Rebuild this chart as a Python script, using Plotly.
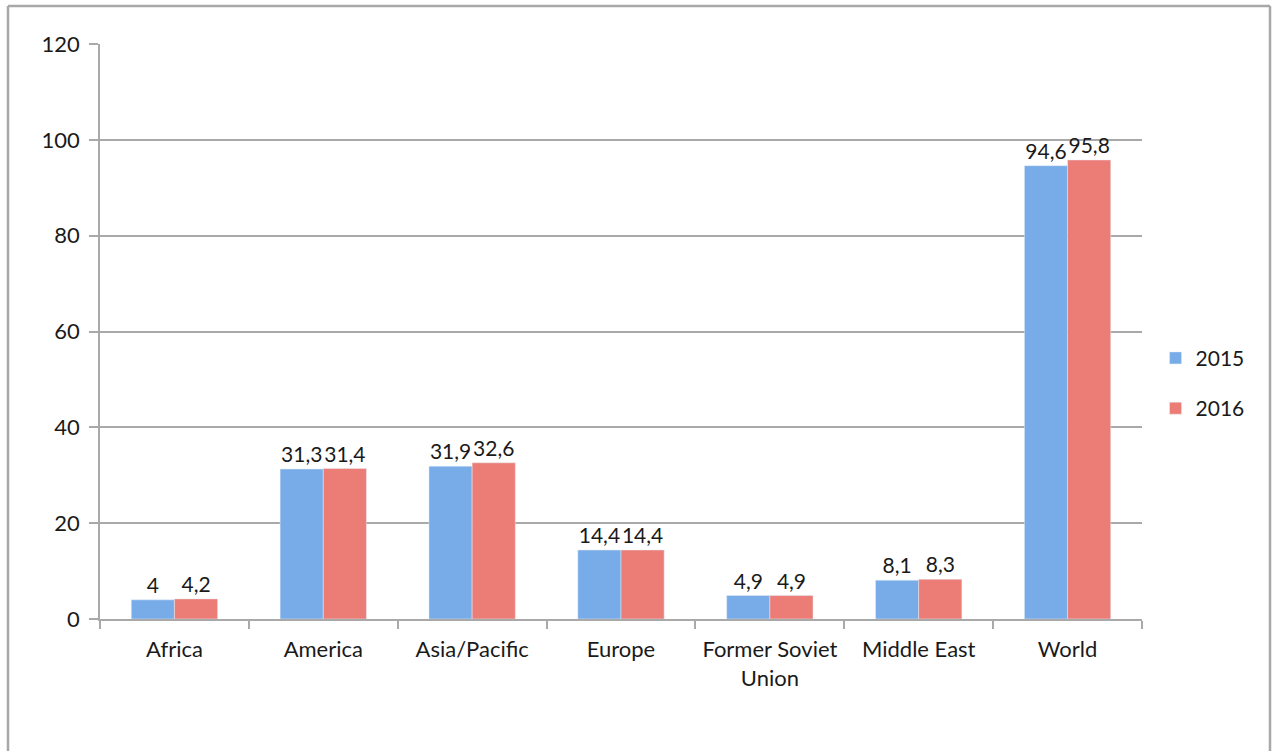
import plotly.graph_objects as go

categories = ["Africa", "America", "Asia/Pacific", "Europe", "Former Soviet<br>Union", "Middle East", "World"]
values_2015 = [4, 31.3, 31.9, 14.4, 4.9, 8.1, 94.6]
values_2016 = [4.2, 31.4, 32.6, 14.4, 4.9, 8.3, 95.8]
series_names = ["2015", "2016"]
y_ticks = [0, 20, 40, 60, 80, 100, 120]

FONT = "Lato, 'Open Sans', sans-serif"
GRID = "#a9a9a9"

def lab(v):
    s = ("%g" % v)
    return s.replace(".", ",")

fig = go.Figure()
fig.add_trace(go.Bar(
    x=categories, y=values_2015, name=series_names[0],
    marker=dict(color="#78ace9"),
    text=[lab(v) for v in values_2015], textposition="outside",
    textfont=dict(size=21, color="#1a1a1a", family=FONT),
    cliponaxis=False, legendgroup="a",
))
fig.add_trace(go.Bar(
    x=categories, y=values_2016, name=series_names[1],
    marker=dict(color="#ec7c76"),
    text=[lab(v) for v in values_2016], textposition="outside",
    textfont=dict(size=21, color="#1a1a1a", family=FONT),
    cliponaxis=False, legendgroup="b",
))

# frame (open at bottom)
L, R, T = (8 - 100) / 1042, (1270 - 100) / 1042, (619 - 6) / 575
B = (619 - 760) / 575
for x0, y0, x1, y1 in [(L, B, L, T), (L, T, R, T), (R, T, R, B)]:
    fig.add_shape(type="line", xref="paper", yref="paper", x0=x0, y0=y0, x1=x1, y1=y1,
                  line=dict(color="#a8a8a8", width=2.5))

fig.update_layout(
    width=1275, height=751,
    margin=dict(l=100, r=133, t=44, b=132),
    paper_bgcolor="white", plot_bgcolor="white",
    barmode="group", bargap=0.42, bargroupgap=0,
    font=dict(family=FONT, size=21, color="#1a1a1a"),
    uniformtext=dict(mode=False),
    legend=dict(x=1.013, y=0.41, xanchor="left", yanchor="middle",
                font=dict(size=21, family=FONT), traceorder="grouped",
                tracegroupgap=20, bgcolor="rgba(0,0,0,0)"),
    showlegend=True,
)
fig.update_xaxes(
    showline=True, linecolor=GRID, linewidth=1.5,
    ticks="outside", tickson="boundaries", ticklen=8, tickcolor=GRID, tickwidth=1.5,
    showgrid=False, tickfont=dict(size=22, family=FONT), ticklabelstandoff=10,
)
fig.update_yaxes(
    range=[0, 120], tickvals=y_ticks, showgrid=True, gridcolor=GRID, gridwidth=1.5,
    showline=True, linecolor=GRID, linewidth=1.5, zeroline=False,
    ticks="outside", ticklen=9, tickcolor=GRID, tickwidth=1.5,
    tickfont=dict(size=22, family=FONT), ticklabelstandoff=5,
)

fig.write_html("out.html")
